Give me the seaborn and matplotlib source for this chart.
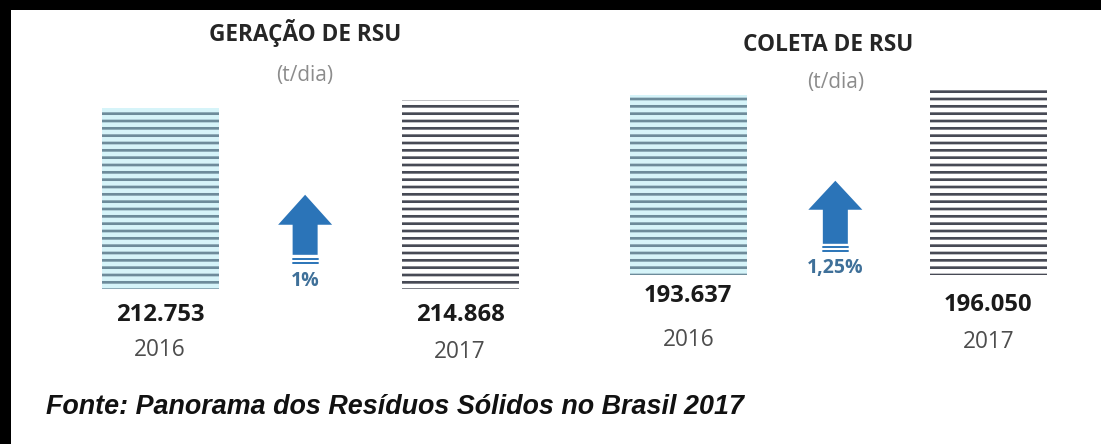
import pandas as pd
import seaborn as sns
import matplotlib.pyplot as plt
import matplotlib.transforms as mtransforms
from matplotlib.patches import Rectangle, FancyArrowPatch
from matplotlib.lines import Line2D

sns.set_theme(style="white")
plt.rcParams['font.family'] = ['Open Sans', 'DejaVu Sans']
plt.rcParams['hatch.linewidth'] = 2.2

# dados (t/dia)
anos = ["2016", "2017"]
geracao = [212753, 214868]
coleta = [193637, 196050]
geracao_rotulos = ["212.753", "214.868"]
coleta_rotulos = ["193.637", "196.050"]
variacao = ["1%", "1,25%"]
titulos = ["GERAÇÃO DE RSU", "COLETA DE RSU"]
fonte = "Fonte: Panorama dos Resíduos Sólidos no Brasil 2017"

W, H, DPI = 1101, 444, 88
fig = plt.figure(figsize=(W / DPI + 0.005, H / DPI + 0.005), dpi=DPI)
fig.patch.set_facecolor("white")


def fx(x):
    return x / W


def fy(y):
    return 1 - y / H


# faixas pretas da borda da imagem original
fig.add_artist(Rectangle((0, fy(10)), 1, 10 / H, transform=fig.transFigure,
                         color="black", lw=0, zorder=10))
fig.add_artist(Rectangle((0, 0), fx(11), 1, transform=fig.transFigure,
                         color="black", lw=0, zorder=10))

estilo = {"2016": ("#d6f4f9", "#6d8b9a"), "2017": ("#ffffff", "#474a55")}
ordem = ["2016", " ", "2017"]

paineis = [
    # valores, rotulos, esquerda px, base px, ylim, titulo, unidade, valor y, ano y, seta
    (geracao, geracao_rotulos, 85, 289, (164900, 236000), (305, 33), (305, 75),
     [315, 315], [350, 352],
     dict(x=305, top=195, base=225, bottom=255, lines=[259, 263], text=281)),
    (coleta, coleta_rotulos, 613, 275, (131600, 219500), (828, 45), (835, 82),
     [296, 305], [340, 342],
     dict(x=835, top=181, base=210, bottom=244, lines=[247, 251], text=268)),
]

for i, (vals, rots, left, base, ylim, tpos, upos, vy, ay, arr) in enumerate(paineis):
    ax = fig.add_axes([fx(left), fy(base), 450 / W, (base - 20) / H])
    df = pd.DataFrame({"ano": anos, "valor": vals})
    sns.barplot(data=df, x="ano", y="valor", order=ordem, ax=ax, width=0.78,
                color="white", linewidth=0)
    ax.set_xlim(-0.5, 2.5)
    ax.set_ylim(*ylim)
    ax.axis("off")
    ax.patch.set_alpha(0)

    barras = sorted([p for p in ax.patches if p.get_height() > 0], key=lambda p: p.get_x())
    blend = mtransforms.blended_transform_factory(ax.transData, fig.transFigure)
    for p, ano, rot, y1, y2 in zip(barras, anos, rots, vy, ay):
        face, hatch = estilo[ano]
        p.set_facecolor(face)
        p.set_edgecolor(hatch)
        p.set_hatch("--")
        p.set_linewidth(0)
        cx = p.get_x() + p.get_width() / 2
        ax.text(cx, fy(y1), rot, transform=blend, ha="center", va="center",
                fontsize=19.5, fontweight="bold", color="#1a1a1a")
        ax.text(cx, fy(y2), ano, transform=blend, ha="center", va="center",
                fontsize=18.5, color="#4d4d4d")

    # titulo e unidade
    fig.text(fx(tpos[0]), fy(tpos[1]), titulos[i], ha="center", va="center",
             fontsize=18.5, fontweight="bold", color="#262626")
    fig.text(fx(upos[0]), fy(upos[1]), "(t/dia)", ha="center", va="center",
             fontsize=17, color="#8c8c8c")

    # seta de variacao
    c = arr["x"]
    fig.add_artist(FancyArrowPatch(
        (fx(c), fy(arr["bottom"])), (fx(c), fy(arr["top"])),
        transform=fig.transFigure, mutation_scale=1, lw=0, color="#2b74b8",
        arrowstyle="simple,head_length=%f,head_width=%f,tail_width=%f" % (
            (arr["base"] - arr["top"]) * 72 / DPI, 54 * 72 / DPI, 25 * 72 / DPI),
        shrinkA=0, shrinkB=0))
    for ly in arr["lines"]:
        fig.add_artist(Line2D([fx(c - 12.5), fx(c + 12.5)], [fy(ly), fy(ly)],
                              transform=fig.transFigure, color="#2b74b8", lw=1.6))
    fig.text(fx(c), fy(arr["text"]), variacao[i], ha="center", va="center",
             fontsize=16, fontweight="bold", color="#3f7099")

fig.text(fx(46), fy(407), fonte, ha="left", va="center", fontsize=22,
         fontweight="bold", fontstyle="italic", family="Liberation Sans", color="#111111")

fig.savefig("out.png", dpi=DPI, facecolor="white")
